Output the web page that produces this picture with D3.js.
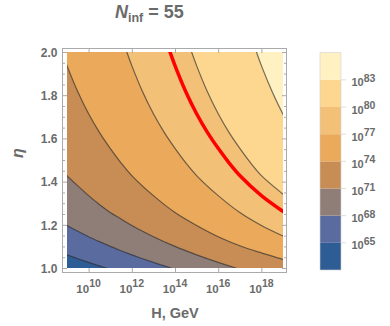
<!DOCTYPE html>
<html>
<head>
<meta charset="utf-8">
<script src="https://cdn.jsdelivr.net/npm/d3@7"></script>
<style>
  body { margin: 0; background: #fff; }
  text { font-family: "Liberation Sans", Arial, sans-serif; font-weight: bold; fill: #6b6b6b; }
</style>
</head>
<body>
<svg id="svg" width="390" height="326"></svg>
<script>
var svg = d3.select("#svg");

// contour levels (log10 N) and the band colours, lowest band first
var levels = [65, 68, 71, 74, 77, 80, 83];
var bandColors = ["#2e5c94", "#5a6ba0", "#8f7e78", "#c78d55", "#eaa95b", "#f3c078", "#fdd68f", "#fff1c2"];

// contour lines, as [log10 H, eta]
var c65 = [[8.7,1.072],[9,1.061],[9.5,1.043],[10,1.026],[10.5,1.01],[10.8,1.0],[11.1,0.99]];
var c68 = [[8.7,1.215],[9,1.197],[9.5,1.17],[10,1.145],[10.5,1.122],[11,1.1],[11.5,1.08],[12,1.061],
           [12.5,1.043],[13,1.026],[13.5,1.01],[13.8,1.0],[14.1,0.99]];
var c71 = [[8.7,1.463],[9,1.428],[9.5,1.38],[10,1.335],[10.5,1.294],[11,1.257],[11.5,1.227],[12,1.197],
           [12.5,1.17],[13,1.145],[14,1.1],[15,1.061],[16,1.026],[16.5,1.01],[16.8,1.0],[17.1,0.99]];
var c74 = [[8.7,2.02],[9,1.937],[9.5,1.816],[10,1.714],[10.5,1.628],[11,1.554],[11.5,1.487],[12,1.428],
           [13,1.335],[14,1.257],[15,1.197],[16,1.145],[17,1.103],[18,1.07],[19,1.04],[19.3,1.03]];
var c77 = [[11.7,2.02],[12,1.937],[12.5,1.816],[13,1.714],[13.5,1.628],[14,1.554],[14.5,1.487],[15,1.428],
           [16,1.335],[17,1.257],[18,1.197],[19,1.148],[19.3,1.134]];
var c80 = [[14.7,2.02],[15,1.937],[15.5,1.816],[16,1.714],[16.5,1.628],[17,1.554],[17.5,1.487],[18,1.428],
           [19,1.342],[19.3,1.318]];
var c83 = [[17.7,2.02],[18,1.937],[18.5,1.816],[19,1.712],[19.3,1.66]];
var contours = [c65, c68, c71, c74, c77, c80, c83];

// the highlighted line, N = 10^79
var redLine = [[13.7,2.02],[14,1.937],[14.5,1.816],[15,1.714],[15.5,1.628],[16,1.554],[16.5,1.487],
               [17,1.428],[18,1.335],[19,1.262],[19.3,1.242]];

var xTicks = [10, 12, 14, 16, 18];
var yTicks = [1.0, 1.2, 1.4, 1.6, 1.8, 2.0];
var yMinor = [1.05,1.1,1.15,1.25,1.3,1.35,1.45,1.5,1.55,1.65,1.7,1.75,1.85,1.9,1.95];
var legendRange = [62, 86];

var x = d3.scaleLinear().domain([9, 19]).range([67, 283]);
var y = d3.scaleLinear().domain([1, 2]).range([268, 52]);

svg.append("clipPath").attr("id", "plot")
  .append("rect").attr("x", 67).attr("y", 52).attr("width", 216).attr("height", 216);

var plot = svg.append("g").attr("clip-path", "url(#plot)");

plot.append("rect")
    .attr("x", 67).attr("y", 52).attr("width", 216).attr("height", 216)
    .attr("fill", bandColors[0]);

var line = d3.line()
    .x(function(d) { return x(d[0]); })
    .y(function(d) { return y(d[1]); })
    .curve(d3.curveCatmullRom);

// fill everything above each contour with the next band colour
var outer = [[19.6, 0.9], [19.6, 2.1], [8.6, 2.1]];
contours.forEach(function(c, i) {
  plot.append("path")
      .attr("d", line(c) + outer.map(function(p) { return "L" + x(p[0]) + "," + y(p[1]); }).join("") + "Z")
      .attr("fill", bandColors[i + 1]);
});

plot.selectAll(".contour")
  .data(contours)
  .enter().append("path")
    .attr("class", "contour")
    .attr("d", line)
    .attr("fill", "none")
    .attr("stroke", "#2b2b2b")
    .attr("stroke-opacity", 0.65)
    .attr("stroke-width", 1.2);

plot.append("path")
    .datum(redLine)
    .attr("d", line)
    .attr("fill", "none")
    .attr("stroke", "#ff0000")
    .attr("stroke-width", 3.5);

// frame and ticks
var frameColor = "#aaaaaa";

function styleAxis(g) {
  g.select(".domain").remove();
  g.selectAll(".tick line").attr("stroke", frameColor);
}

svg.append("g")
    .attr("transform", "translate(62.5,0)")
    .call(d3.axisLeft(y).tickValues(yTicks).tickFormat(d3.format(".1f")).tickSizeInner(-4.5).tickSizeOuter(0).tickPadding(5))
    .call(styleAxis)
    .selectAll("text").attr("font-size", 12).attr("font-family", null).attr("fill", null).attr("dy", "0.35em");

svg.append("g")
    .attr("transform", "translate(62.5,0)")
    .call(d3.axisLeft(y).tickValues(yMinor).tickFormat("").tickSizeInner(-2.5).tickSizeOuter(0))
    .call(styleAxis);

svg.append("g")
    .attr("transform", "translate(286.5,0)")
    .call(d3.axisRight(y).tickValues(yTicks).tickFormat("").tickSizeInner(-4.5).tickSizeOuter(0))
    .call(styleAxis);

svg.append("g")
    .attr("transform", "translate(286.5,0)")
    .call(d3.axisRight(y).tickValues(yMinor).tickFormat("").tickSizeInner(-2.5).tickSizeOuter(0))
    .call(styleAxis);

svg.append("g")
    .attr("transform", "translate(0,272.5)")
    .call(d3.axisBottom(x).tickValues(xTicks).tickFormat("").tickSizeInner(-4.5).tickSizeOuter(0))
    .call(styleAxis);

svg.append("g")
    .attr("transform", "translate(0,48.5)")
    .call(d3.axisTop(x).tickValues(xTicks).tickFormat("").tickSizeInner(-4.5).tickSizeOuter(0))
    .call(styleAxis);

svg.append("rect")
    .attr("x", 62.5).attr("y", 48.5).attr("width", 224).attr("height", 224)
    .attr("fill", "none")
    .attr("stroke", frameColor);

// x tick labels as powers of ten
var xl = svg.selectAll(".xlabel")
  .data(xTicks)
  .enter().append("text")
    .attr("class", "xlabel")
    .attr("x", function(d) { return x(d); })
    .attr("y", 292.5)
    .attr("text-anchor", "middle")
    .attr("font-size", 11.5);
xl.append("tspan").text("10");
xl.append("tspan").attr("dy", -5.5).attr("font-size", 10.5).text(function(d) { return d; });

// axis titles
svg.append("text")
    .attr("x", 175).attr("y", 318)
    .attr("text-anchor", "middle")
    .attr("font-size", 14.5)
    .text("H, GeV");

svg.append("text")
    .attr("transform", "translate(23,153) rotate(-90)")
    .attr("text-anchor", "middle")
    .attr("font-size", 16)
    .attr("font-style", "italic")
    .text("η");

// plot title
var title = svg.append("text")
    .attr("x", 115).attr("y", 17.5)
    .attr("font-size", 18);
title.append("tspan").attr("font-style", "italic").text("N");
title.append("tspan").attr("font-size", 12.5).attr("dy", 4).text("inf");
title.append("tspan").attr("dy", -4).text(" = 55");

// colour bar legend
var cb = d3.scaleLinear().domain(legendRange).range([270, 52.7]);
var bandEdges = [legendRange[0]].concat(levels).concat([legendRange[1]]);

var legend = svg.append("g");
legend.selectAll("rect")
  .data(bandColors)
  .enter().append("rect")
    .attr("x", 320)
    .attr("width", 21)
    .attr("y", function(d, i) { return cb(bandEdges[i + 1]); })
    .attr("height", function(d, i) { return cb(bandEdges[i]) - cb(bandEdges[i + 1]); })
    .attr("fill", function(d) { return d; });

legend.append("rect")
    .attr("x", 320).attr("y", cb(legendRange[1])).attr("width", 21)
    .attr("height", cb(legendRange[0]) - cb(legendRange[1]))
    .attr("fill", "none").attr("stroke", "#d0d0d0").attr("stroke-width", 0.6);

legend.selectAll(".ltick")
  .data(levels)
  .enter().append("line")
    .attr("class", "ltick")
    .attr("x1", 341).attr("x2", 346)
    .attr("y1", function(d) { return cb(d); })
    .attr("y2", function(d) { return cb(d); })
    .attr("stroke", "#dddddd");

var ll = legend.selectAll(".llabel")
  .data(levels)
  .enter().append("text")
    .attr("class", "llabel")
    .attr("x", 351.5)
    .attr("y", function(d) { return cb(d) + 6.5; })
    .attr("font-size", 11);
ll.append("tspan").text("10");
ll.append("tspan").attr("dy", -4.5).attr("font-size", 10.5).text(function(d) { return d; });
</script>
</body>
</html>
